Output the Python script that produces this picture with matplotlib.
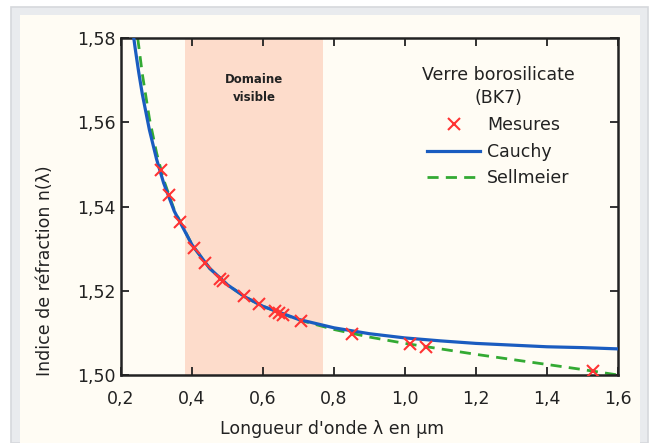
import numpy as np
import matplotlib.pyplot as plt
from matplotlib.patches import Rectangle
from matplotlib.lines import Line2D

# mesures (longueur d'onde en um, indice)
lam_mes = [0.3126, 0.3341, 0.3650, 0.4047, 0.4358, 0.4800, 0.4861, 0.5461,
           0.5876, 0.6328, 0.6438, 0.6563, 0.7065, 0.8521, 1.0140, 1.0600, 1.5296]
n_mes = [1.5486, 1.5427, 1.5363, 1.5302, 1.5267, 1.5228, 1.5224, 1.5187,
         1.5168, 1.5151, 1.5147, 1.5143, 1.5129, 1.5098, 1.5073, 1.5067, 1.5009]

# courbe Cauchy
lam_c = [0.236, 0.24, 0.25, 0.26, 0.28, 0.30, 0.32, 0.35, 0.40, 0.45, 0.50, 0.55,
         0.60, 0.70, 0.80, 0.90, 1.00, 1.10, 1.20, 1.30, 1.40, 1.50, 1.60]
n_c = [1.5800, 1.5775, 1.5718, 1.5667, 1.5582, 1.5513, 1.5456, 1.5389, 1.5309,
       1.5253, 1.5214, 1.5185, 1.5163, 1.5132, 1.5112, 1.5098, 1.5088, 1.5081,
       1.5075, 1.5071, 1.5067, 1.5065, 1.5062]

# courbe Sellmeier
lam_s = [0.247, 0.25, 0.26, 0.28, 0.30, 0.32, 0.35, 0.40, 0.45, 0.50, 0.55,
         0.60, 0.70, 0.80, 0.90, 1.00, 1.10, 1.20, 1.30, 1.40, 1.50, 1.60]
n_s = [1.5800, 1.5781, 1.5715, 1.5609, 1.5528, 1.5464, 1.5392, 1.5309, 1.5253,
       1.5214, 1.5185, 1.5163, 1.5131, 1.5108, 1.5090, 1.5075, 1.5062, 1.5049,
       1.5037, 1.5025, 1.5013, 1.5000]

visible = (0.38, 0.77)
xticks = [0.2, 0.4, 0.6, 0.8, 1.0, 1.2, 1.4, 1.6]
yticks = [1.50, 1.52, 1.54, 1.56, 1.58]

plt.rcParams['font.family'] = ['DejaVu Sans']
fs = 12.5
txt = "#222222"

fig = plt.figure(figsize=(6.53, 4.43), dpi=100)
fig.patch.set_facecolor("white")
# cadre gris + fond creme
fig.patches.append(Rectangle((11/653, 0), 637/653, 436/443, transform=fig.transFigure,
                             facecolor="#e9ebee", edgecolor="#d6d8dc", lw=1.2, zorder=-10))
fig.patches.append(Rectangle((20/653, 0), 620/653, 428/443, transform=fig.transFigure,
                             facecolor="#fffcf4", edgecolor="none", zorder=-9))

ax = fig.add_axes([121/653, 68/443, 497/653, 337/443])
ax.set_facecolor("none")

ax.axvspan(visible[0], visible[1], color="#fddccb", lw=0, zorder=0)
ax.text(np.mean(visible), 1.5680, "Domaine\nvisible", ha="center", va="center",
        fontsize=8.5, fontweight="bold", color=txt, linespacing=1.55)

ax.plot(lam_c, n_c, "-", color="#1a5cc0", lw=2.3, zorder=3)
ax.plot(lam_s, n_s, "--", color="#33aa33", lw=2.0, dashes=(4, 2.6), zorder=2)
ax.plot(lam_mes, n_mes, "x", color="#ff3333", ms=8.5, mew=1.5, zorder=4)

ax.set_xlim(0.2, 1.6)
ax.set_ylim(1.50, 1.58)
ax.set_xticks(xticks)
ax.set_yticks(yticks)
ax.set_xticklabels([("%.1f" % v).replace(".", ",") for v in xticks])
ax.set_yticklabels([("%.2f" % v).replace(".", ",") for v in yticks])
ax.tick_params(direction="in", length=6, width=1.3, top=True, right=True,
               labelsize=fs, colors=txt)
ax.tick_params(axis="x", pad=11)
ax.tick_params(axis="y", pad=4)
for sp in ax.spines.values():
    sp.set_linewidth(1.8)
    sp.set_color(txt)

ax.set_xlabel("Longueur d'onde λ en µm", fontsize=fs, color=txt)
ax.set_ylabel("Indice de réfraction n(λ)", fontsize=fs, color=txt)
ax.xaxis.set_label_coords(0.425, -0.135)
ax.yaxis.set_label_coords(-0.135, 0.31)

handles = [Line2D([], [], ls="none", marker="x", color="#ff3333", ms=8.5, mew=1.5),
           Line2D([], [], color="#1a5cc0", lw=2.3),
           Line2D([], [], color="#33aa33", lw=2.0, ls="--", dashes=(4, 2.6))]
leg = ax.legend(handles, ["Mesures", "Cauchy", "Sellmeier"],
                title="Verre borosilicate\n(BK7)", loc="upper right",
                bbox_to_anchor=(0.945, 0.962), frameon=False, fontsize=fs,
                title_fontsize=fs, handlelength=3.0, handletextpad=0.45,
                labelspacing=0.5)
leg.get_title().set_multialignment("center")
leg.get_title().set_linespacing(1.35)
leg.get_title().set_color(txt)
for t in leg.get_texts():
    t.set_color(txt)

fig.savefig("out.png", dpi=100)
